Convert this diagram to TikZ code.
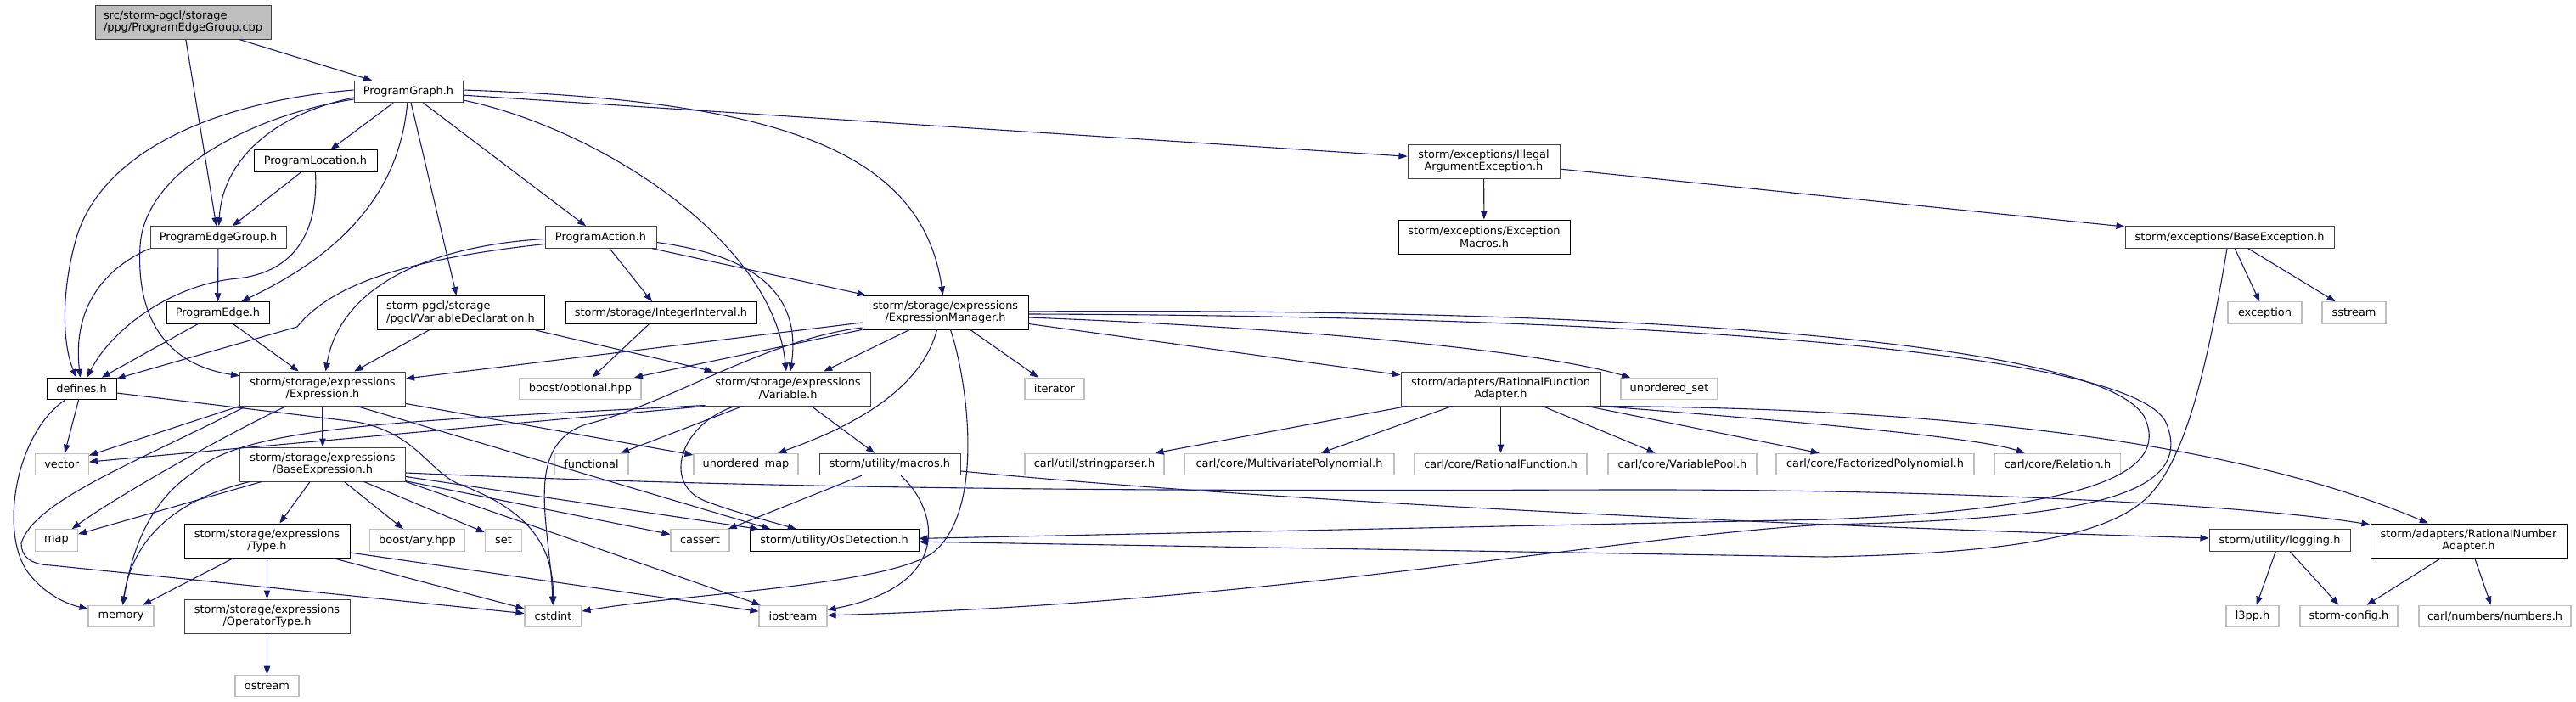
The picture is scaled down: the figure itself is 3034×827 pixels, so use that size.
\documentclass[tikz,border=0pt]{standalone}
\usepackage{fontspec}
\setmainfont{DejaVu Sans}
\usepackage{xcolor}
\usepackage{tikz}
\usetikzlibrary{arrows.meta}
\definecolor{incblue}{HTML}{191970}
\definecolor{rootgray}{HTML}{BFBFBF}
\definecolor{sysgray}{HTML}{BFBFBF}
\definecolor{darkframe}{HTML}{404040}

\tikzset{
  hfile/.style={draw=black, fill=white, line width=1pt, inner sep=0pt,
    minimum height=25.5pt, font=\fontsize{12.9}{14.7}\selectfont},
  hfiledk/.style={hfile, draw=darkframe},
  sysfile/.style={hfile, draw=sysgray, line width=1.1pt},
  twolines/.style={minimum height=40pt, align=center},
  incl/.style={draw=incblue, line width=1.1pt, -{Triangle[length=10pt, width=7.5pt]}},
}

\begin{document}
\begin{tikzpicture}[x=1pt, y=-1pt]
  \useasboundingbox (0,0) rectangle (3034,827);
  \fill[white] (0,0) rectangle (3034,827);

  \node[hfiledk, twolines, align=left, fill=rootgray, minimum width=207pt] (root) at (215.5,26) {src/storm-pgcl/storage\\/ppg/ProgramEdgeGroup.cpp};
  \node[hfiledk, minimum width=128pt] (pgraph) at (481,108) {ProgramGraph.h};
  \node[hfile, minimum width=145pt] (ploc) at (371.5,189.5) {ProgramLocation.h};
  \node[hfiledk, minimum width=160pt] (pegroup) at (257,279.5) {ProgramEdgeGroup.h};
  \node[hfiledk, minimum width=131pt] (paction) at (707.5,279.5) {ProgramAction.h};
  \node[hfile, minimum width=121pt] (pedge) at (256.5,368.5) {ProgramEdge.h};
  \node[hfile, twolines, align=left, minimum width=197pt] (vardecl) at (542.5,368.5) {storm-pgcl/storage\\/pgcl/VariableDeclaration.h};
  \node[hfile, minimum width=225pt] (intint) at (778.5,368.5) {storm/storage/IntegerInterval.h};
  \node[hfile, twolines, minimum width=195pt] (exprmgr) at (1113.5,368) {storm/storage/expressions\\/ExpressionManager.h};
  \node[hfiledk, twolines, minimum width=179pt] (illegal) at (1747.5,190) {storm/exceptions/Illegal\\ArgumentException.h};
  \node[hfile, twolines, minimum width=202pt] (excmacros) at (1748,279) {storm/exceptions/Exception\\Macros.h};
  \node[hfiledk, minimum width=246pt] (baseexc) at (2626,279.5) {storm/exceptions/BaseException.h};
  \node[sysfile, minimum width=87pt] (exception) at (2667.5,368.5) {exception};
  \node[sysfile, minimum width=75pt] (sstream) at (2772.5,368.5) {sstream};
  \node[hfile, minimum width=82pt] (defines) at (96,458) {defines.h};
  \node[hfiledk, twolines, minimum width=195pt] (expr) at (380,458) {storm/storage/expressions\\/Expression.h};
  \node[sysfile, minimum width=143pt] (bopt) at (683.5,458) {boost/optional.hpp};
  \node[hfiledk, twolines, minimum width=194pt] (variable) at (928,458) {storm/storage/expressions\\/Variable.h};
  \node[sysfile, minimum width=70pt] (iterator) at (1242,458) {iterator};
  \node[hfiledk, twolines, minimum width=235pt] (rfa) at (1767.5,458) {storm/adapters/RationalFunction\\Adapter.h};
  \node[sysfile, minimum width=114pt] (uset) at (1966,458) {unordered\_set};
  \node[sysfile, minimum width=63pt] (vector) at (72.8,547) {vector};
  \node[hfiledk, twolines, minimum width=195pt] (baseexpr) at (380,547) {storm/storage/expressions\\/BaseExpression.h};
  \node[sysfile, minimum width=87pt] (functional) at (696.5,547) {functional};
  \node[sysfile, minimum width=123pt] (umap) at (878.5,547) {unordered\_map};
  \node[hfiledk, minimum width=166pt] (macros) at (1048,547) {storm/utility/macros.h};
  \node[sysfile, minimum width=164pt] (strparser) at (1289,547) {carl/util/stringparser.h};
  \node[sysfile, minimum width=247pt] (multipoly) at (1518.5,547) {carl/core/MultivariatePolynomial.h};
  \node[sysfile, minimum width=203pt] (ratfun) at (1767.5,547) {carl/core/RationalFunction.h};
  \node[sysfile, minimum width=175pt] (varpool) at (1981.5,547) {carl/core/VariablePool.h};
  \node[sysfile, minimum width=233pt] (factpoly) at (2208.5,547) {carl/core/FactorizedPolynomial.h};
  \node[sysfile, minimum width=148pt] (relation) at (2423.5,547) {carl/core/Relation.h};
  \node[sysfile, minimum width=50pt] (map) at (66.5,636.5) {map};
  \node[hfile, twolines, minimum width=195pt] (type) at (314.5,637) {storm/storage/expressions\\/Type.h};
  \node[sysfile, minimum width=112pt] (boostany) at (491.5,636.5) {boost/any.hpp};
  \node[sysfile, minimum width=43pt] (set) at (593,636.5) {set};
  \node[sysfile, minimum width=69pt] (cassert) at (824.5,636.5) {cassert};
  \node[hfile, minimum width=199pt] (osdet) at (982.5,636.5) {storm/utility/OsDetection.h};
  \node[hfiledk, minimum width=166pt] (logging) at (2685,636.5) {storm/utility/logging.h};
  \node[hfile, twolines, minimum width=231pt] (rna) at (2907.5,637) {storm/adapters/RationalNumber\\Adapter.h};
  \node[sysfile, minimum width=77pt] (memory) at (142.5,726) {memory};
  \node[hfiledk, twolines, minimum width=195pt] (optype) at (314.5,726) {storm/storage/expressions\\/OperatorType.h};
  \node[sysfile, minimum width=67pt] (cstdint) at (651.5,726) {cstdint};
  \node[sysfile, minimum width=80pt] (iostream) at (934,726) {iostream};
  \node[sysfile, minimum width=62pt] (l3pp) at (2653,726) {l3pp.h};
  \node[sysfile, minimum width=115pt] (stormcfg) at (2766.5,726) {storm-config.h};
  \node[sysfile, minimum width=179pt] (numbers) at (2938.5,726) {carl/numbers/numbers.h};
  \node[sysfile, minimum width=75pt] (ostream) at (314.5,808) {ostream};

  \draw[incl] (root) -- (pgraph);
  \draw[incl] (root) -- (pegroup);

  \draw[incl] (pgraph) -- (ploc);
  \draw[incl] ([yshift=-7pt]pgraph.west) .. controls (320,135) and (262,190) .. (pegroup);
  \draw[incl] (pgraph) .. controls (470,230) and (400,300) .. (pedge);
  \draw[incl] (pgraph) -- (vardecl);
  \draw[incl] (pgraph) -- (paction);
  \draw[incl] ([yshift=2pt]pgraph.west) .. controls (250,120) and (120,180) .. (90,280) .. controls (70,350) and (75,410) .. (defines);
  \draw[incl] ([yshift=-9pt]pgraph.west) .. controls (300,135) and (170,200) .. (165,290) .. controls (160,380) and (200,430) .. (expr);
  \draw[incl] ([yshift=-10pt]pgraph.east) .. controls (700,150) and (910,280) .. (variable);
  \draw[incl] ([yshift=2pt]pgraph.east) .. controls (900,118) and (1085,170) .. (exprmgr);
  \draw[incl] (pgraph) -- (illegal);

  \draw[incl] (ploc) -- (pegroup);
  \draw[incl] (ploc.south) .. controls (375,270) and (350,320) .. (280,328) .. controls (200,335) and (130,390) .. (defines);
  \draw[incl] (pegroup) -- (pedge);
  \draw[incl] (pegroup.south west) .. controls (125,315) and (85,360) .. (defines);
  \draw[incl] (pedge) -- (defines);
  \draw[incl] (pedge) -- (expr);

  \draw[incl] ([yshift=-8pt]paction.west) .. controls (480,305) and (390,335) .. (350,385) -- (defines);
  \draw[incl] ([yshift=-2pt]paction.west) .. controls (500,290) and (400,340) .. (expr);
  \draw[incl] (paction) -- (intint);
  \draw[incl] ([yshift=-6pt]paction.east) .. controls (880,300) and (945,340) .. (variable);
  \draw[incl] (paction) -- (exprmgr);

  \draw[incl] (vardecl) -- (expr);
  \draw[incl] (vardecl) -- (variable);
  \draw[incl] (intint) -- (bopt);

  \draw[incl] (exprmgr) -- (expr);
  \draw[incl] (exprmgr) -- (bopt);
  \draw[incl] ([yshift=-18pt]exprmgr.west) .. controls (900,400) and (790,475) .. (690,500) .. controls (615,525) and (648,620) .. (cstdint);
  \draw[incl] (exprmgr) -- (variable);
  \draw[incl] ([xshift=-10pt]exprmgr.south) .. controls (1090,440) and (1040,490) .. (umap);
  \draw[incl] ([xshift=6pt]exprmgr.south) .. controls (1140,450) and (1160,600) .. (1100,650) .. controls (1050,690) and (800,700) .. (cstdint);
  \draw[incl] (exprmgr) -- (iterator);
  \draw[incl] ([yshift=1pt]exprmgr.east) .. controls (1900,362) and (2470,400) .. (2525,490) .. controls (2560,560) and (2450,600) .. (2150,612) -- (osdet);
  \draw[incl] ([yshift=-2pt]exprmgr.east) .. controls (1900,372) and (2520,410) .. (2552,500) .. controls (2585,585) and (2450,612) .. (2150,618) .. controls (1900,632) and (1500,710) .. (iostream);
  \draw[incl] ([yshift=-6pt]exprmgr.east) .. controls (1500,385) and (1800,410) .. (uset);
  \draw[incl] (exprmgr) -- (rfa);

  \draw[incl] (illegal) -- (excmacros);
  \draw[incl] (illegal) -- (baseexc);
  \draw[incl] (baseexc) -- (exception);
  \draw[incl] (baseexc) -- (sstream);
  \draw[incl] ([xshift=-3pt]baseexc.south) .. controls (2600,430) and (2575,540) .. (2530,585) .. controls (2480,635) and (2350,652) .. (2150,656) -- (osdet);

  \draw[incl] (defines) -- (vector);
  \draw[incl] ([xshift=22pt]defines.south west) .. controls (20,510) and (0,620) .. (30,670) .. controls (50,700) and (80,712) .. (memory);
  \draw[incl] ([yshift=-5pt]defines.east) -- (420,497) .. controls (490,510) and (505,555) .. (540,570) .. controls (620,600) and (652,640) .. (cstdint);

  \draw[incl] (expr) -- (baseexpr);
  \draw[incl] (expr.south west) -- (vector);
  \draw[incl] (expr) .. controls (250,520) and (130,590) .. (map);
  \draw[incl] ([xshift=8pt]expr.south west) .. controls (160,545) and (40,590) .. (25,640) .. controls (25,655) and (35,665) .. (60,666) -- (cstdint);
  \draw[incl] (expr.-27) -- (osdet.170);
  \draw[incl] (expr) -- (umap);

  \draw[incl] (baseexpr) -- (type);
  \draw[incl] (baseexpr) -- (boostany);
  \draw[incl] (baseexpr) -- (set);
  \draw[incl] (baseexpr) -- (map);
  \draw[incl] (baseexpr) .. controls (200,590) and (155,640) .. (memory);
  \draw[incl] (baseexpr) -- (cassert);
  \draw[incl] (baseexpr) -- (osdet);
  \draw[incl] (baseexpr.south east) -- (iostream);
  \draw[incl] ([yshift=-10pt]baseexpr.east) .. controls (1000,580) and (1500,578) .. (1900,577) .. controls (2300,576) and (2650,595) .. (rna);

  \draw[incl] (type) -- (optype);
  \draw[incl] (type) -- (memory);
  \draw[incl] (type) -- (cstdint);
  \draw[incl] (type) -- (iostream);
  \draw[incl] (optype) -- (ostream);

  \draw[incl] (variable.south west) -- (vector);
  \draw[incl] ([yshift=1pt]variable.south west) .. controls (500,495) and (290,500) .. (230,555) .. controls (175,590) and (155,650) .. (memory);
  \draw[incl] (variable) .. controls (800,500) and (780,570) .. (830,590) .. controls (870,605) and (910,615) .. (osdet);
  \draw[incl] (variable) -- (functional);
  \draw[incl] (variable) -- (macros);

  \draw[incl] (macros) -- (cassert);
  \draw[incl] ([xshift=13pt]macros.south) .. controls (1105,600) and (1125,690) .. (iostream);
  \draw[incl] (macros) .. controls (1600,600) and (2300,625) .. (logging);

  \draw[incl] (rfa) -- (strparser);
  \draw[incl] (rfa) -- (multipoly);
  \draw[incl] (rfa) -- (ratfun);
  \draw[incl] (rfa) -- (varpool);
  \draw[incl] (rfa) -- (factpoly);
  \draw[incl] (rfa.south east) .. controls (2100,495) and (2330,515) .. (relation);
  \draw[incl] (rfa.south east) .. controls (2200,480) and (2600,505) .. (rna);

  \draw[incl] (rna) -- (stormcfg);
  \draw[incl] (rna) -- (numbers);
  \draw[incl] (logging) -- (l3pp);
  \draw[incl] (logging) -- (stormcfg);
\end{tikzpicture}
\end{document}
